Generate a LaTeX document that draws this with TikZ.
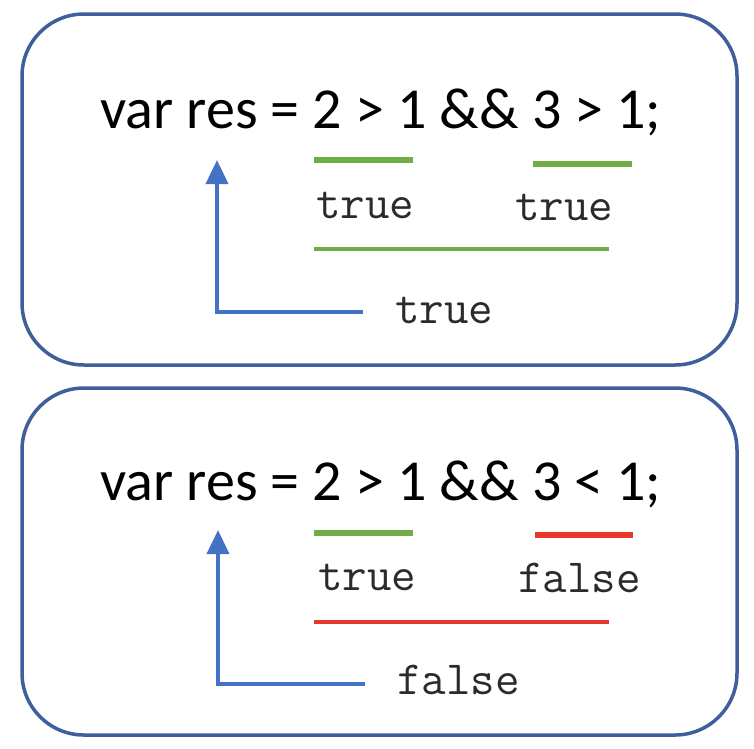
\documentclass[tikz,border=0pt]{standalone}
\usepackage{fontspec}
\setmainfont{Carlito}
\usetikzlibrary{arrows.meta}
\definecolor{boxblue}{HTML}{3F5F9C}
\definecolor{arrowblue}{HTML}{4472C4}
\definecolor{okgreen}{HTML}{70AD47}
\definecolor{badred}{HTML}{E8372C}
\definecolor{codegray}{HTML}{2B2B2B}
\tikzset{
  panel/.style={draw=boxblue, line width=3.5pt, rounded corners=62pt},
  expr/.style={anchor=base west, inner sep=0pt, font=\fontsize{58}{60}\selectfont},
  val/.style={anchor=base west, inner sep=0pt, text=codegray, font=\ttfamily\fontsize{47.6}{50}\selectfont},
  shortbar/.style={line width=6pt},
  longbar/.style={line width=4pt},
  result/.style={draw=arrowblue, line width=3.8pt, -{Triangle[width=22pt,length=24pt]}},
}
\begin{document}
\begin{tikzpicture}[x=1pt,y=-1pt]
\useasboundingbox (0,0) rectangle (754,748);
% top panel
\draw[panel] (22,14) rectangle (737,365);
\node[expr] (e1) at (100,128) {var res = 2 > 1 \&\& 3 > 1;};
\coordinate (g1a) at (314,160); \coordinate (g1b) at (413,160);
\coordinate (g2a) at (533,164); \coordinate (g2b) at (632,164);
\draw[shortbar, okgreen] (g1a) -- (g1b);
\draw[shortbar, okgreen] (g2a) -- (g2b);
\node[val] (v1) at (316,218) {true};
\node[val] (v2) at (515,220) {true};
\coordinate (L1a) at (314,249); \coordinate (L1b) at (609,249);
\draw[longbar, okgreen] (L1a) -- (L1b);
\node[val] (r1) at (395,323) {true};
\coordinate (a1s) at (363,312); \coordinate (a1c) at (217,312); \coordinate (a1e) at (217,160);
\draw[result] (a1s) -- (a1c) -- (a1e);
% bottom panel
\draw[panel] (22,388) rectangle (737,735);
\node[expr] (e2) at (100,500) {var res = 2 > 1 \&\& 3 < 1;};
\coordinate (g3a) at (314,533); \coordinate (g3b) at (413,533);
\coordinate (g4a) at (535,535); \coordinate (g4b) at (633,535);
\draw[shortbar, okgreen] (g3a) -- (g3b);
\draw[shortbar, badred] (g4a) -- (g4b);
\node[val] (v3) at (318,590) {true};
\node[val] (v4) at (518,592) {false};
\coordinate (L2a) at (314,622); \coordinate (L2b) at (609,622);
\draw[longbar, badred] (L2a) -- (L2b);
\node[val] (r2) at (397,694) {false};
\coordinate (a2s) at (365,684); \coordinate (a2c) at (218,684); \coordinate (a2e) at (218,530);
\draw[result] (a2s) -- (a2c) -- (a2e);
\end{tikzpicture}
\end{document}
